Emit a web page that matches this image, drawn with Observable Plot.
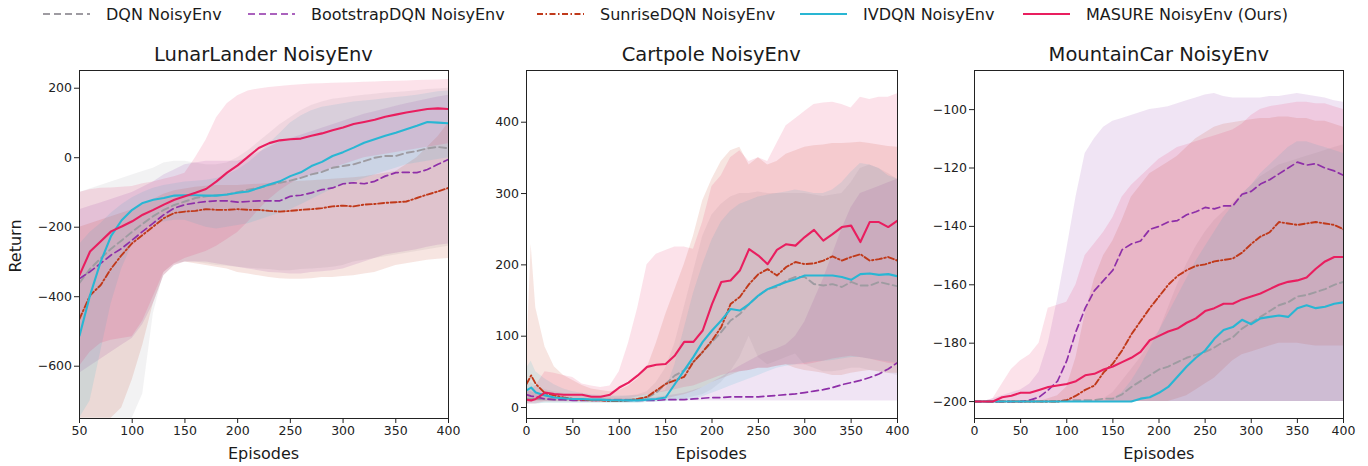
<!DOCTYPE html>
<html><head><meta charset="utf-8">
<script src="https://cdn.jsdelivr.net/npm/d3@7"></script>
<script src="https://cdn.jsdelivr.net/npm/@observablehq/plot@0.6"></script>
<style>
body{margin:0;background:#fff;font-family:"DejaVu Sans",sans-serif;}
#root{position:relative;width:1368px;height:466px;overflow:hidden;background:#fff;}
.abs{position:absolute;white-space:nowrap;color:#1a1a1a;}
.title{font-size:19.5px;transform:translate(-50%,-50%);}
.xlab{font-size:16px;transform:translate(-50%,-50%);}
.ylab{font-size:16px;transform:translate(-50%,-50%) rotate(-90deg);}
.item{position:absolute;top:1px;height:26px;display:flex;align-items:center;font-size:16px;color:#1a1a1a;white-space:nowrap;}
.item svg{margin-right:16px;}
svg.plot{position:absolute;overflow:visible;}
</style></head>
<body><div id="root"></div>
<script>
// ---------- series ----------
const seriesNames = ["DQN NoisyEnv","BootstrapDQN NoisyEnv","SunriseDQN NoisyEnv","IVDQN NoisyEnv","MASURE NoisyEnv (Ours)"];
const seriesColors = ["#9e9ba1","#8e2fa8","#c0391a","#29b6d3","#e91e5f"];
const seriesDash = ["7,4","7,4","6,2.5,1.5,2.5",null,null];
const seriesWidth = [1.9,1.7,1.9,2.1,2.1];

// ---------- LunarLander ----------
const lunarX = [50,60,70,80,90,100,110,120,130,140,150,160,170,180,190,200,210,220,230,240,250,260,270,280,290,300,310,320,330,340,350,360,370,380,390,400];
const lunarDqnMean = [-360,-320,-290,-262,-238,-213,-190,-168,-150,-136,-126,-116,-111,-108,-106,-99,-92,-87,-79,-72,-66,-58,-48,-41,-29,-24,-19,-10,0,5,5,14,19,27,31,27];
const lunarDqnLo = [-750,-750,-750,-750,-750,-750,-680,-450,-330,-305,-300,-300,-305,-310,-312,-315,-318,-320,-322,-325,-325,-322,-320,-318,-315,-310,-300,-295,-290,-285,-280,-275,-270,-265,-260,-255];
const lunarDqnHi = [-100,-90,-80,-70,-60,-50,-40,-30,-15,-10,-10,-15,-20,-20,-15,0,20,45,70,95,115,135,150,160,168,172,176,180,183,186,188,190,193,196,198,200];
const lunarBootMean = [-348,-328,-304,-280,-261,-237,-212,-188,-164,-145,-135,-130,-126,-124,-124,-128,-126,-124,-124,-124,-111,-108,-101,-92,-87,-75,-72,-75,-68,-53,-43,-42,-43,-34,-19,-5];
const lunarBootLo = [-620,-600,-580,-560,-540,-520,-480,-420,-340,-310,-300,-300,-300,-305,-310,-315,-320,-325,-330,-332,-335,-335,-330,-328,-325,-320,-310,-300,-290,-280,-275,-270,-265,-258,-252,-248];
const lunarBootHi = [-150,-140,-130,-120,-110,-100,-85,-70,-50,-35,-20,-15,-10,-10,-10,-10,0,15,30,45,55,65,75,85,95,105,115,125,132,140,148,155,162,168,175,180];
const lunarSunMean = [-464,-396,-367,-319,-280,-246,-222,-198,-174,-159,-155,-153,-148,-150,-150,-148,-150,-150,-153,-155,-153,-150,-148,-145,-140,-138,-140,-135,-133,-130,-128,-126,-116,-106,-97,-87];
const lunarSunLo = [-750,-750,-750,-750,-720,-640,-540,-420,-340,-310,-300,-305,-310,-315,-320,-330,-335,-340,-345,-348,-350,-350,-348,-345,-345,-342,-340,-335,-330,-320,-310,-305,-300,-295,-292,-290];
const lunarSunHi = [-200,-190,-180,-170,-160,-150,-135,-120,-105,-95,-90,-85,-82,-80,-80,-80,-78,-76,-74,-72,-70,-68,-66,-64,-62,-60,-58,-55,-50,-45,-40,-20,0,30,60,100];
const lunarIvMean = [-512,-396,-300,-225,-180,-150,-130,-121,-116,-109,-108,-108,-109,-109,-106,-101,-97,-87,-77,-68,-53,-42,-24,-12,5,16,29,43,53,63,72,82,92,103,101,99];
const lunarIvLo = [-750,-700,-560,-420,-320,-250,-210,-190,-185,-180,-180,-190,-200,-205,-200,-195,-190,-180,-170,-160,-150,-135,-120,-105,-90,-80,-70,-60,-50,-40,-30,-20,-15,-10,-5,0];
const lunarIvHi = [-250,-215,-190,-160,-135,-115,-100,-88,-80,-75,-70,-68,-65,-60,-50,-35,-15,10,40,70,100,120,135,145,150,155,160,163,166,170,173,176,180,185,190,192];
const lunarMaMean = [-338,-270,-241,-212,-198,-183,-164,-150,-135,-121,-111,-101,-90,-68,-43,-22,3,28,42,50,53,55,63,70,79,87,97,103,109,118,124,130,135,140,142,140];
const lunarMaLo = [-600,-560,-535,-525,-520,-515,-470,-400,-330,-305,-290,-280,-270,-255,-235,-215,-185,-150,-120,-95,-75,-60,-50,-40,-30,-20,-10,0,5,10,15,20,25,30,35,40];
const lunarMaHi = [-100,-92,-88,-87,-85,-83,-75,-70,-62,-55,-45,0,50,115,155,178,192,198,202,205,208,210,212,213,214,215,216,217,218,219,220,221,222,223,224,225];
const lunarXTicks = [50,100,150,200,250,300,350,400];
const lunarYTicks = [-600,-400,-200,0,200];

// ---------- Cartpole ----------
const cartX = [0,5,10,20,30,40,50,60,70,80,90,100,110,120,130,140,150,160,170,180,190,200,210,220,230,240,250,260,270,280,290,300,310,320,330,340,350,360,370,380,390,400];
const cartDqnMean = [12,12,12,12,11,11,11,11,11,11,11,11,11,12,14,21,33,45,52,64,78,92,106,122,131,145,157,166,169,178,183,183,173,171,173,169,176,171,171,176,173,170];
const cartDqnLo = [5,5,5,6,6,6,6,6,6,6,6,6,6,6,7,8,9,10,12,15,18,25,35,50,70,100,70,60,65,70,75,60,55,50,50,52,55,55,52,50,48,45];
const cartDqnHi = [30,35,30,25,22,20,18,17,16,15,15,15,16,18,22,35,55,90,140,190,240,270,285,295,300,300,302,300,300,300,300,300,298,296,298,300,315,335,340,335,328,320];
const cartBootMean = [18,16,15,12,11,11,10,10,10,10,10,10,10,10,10,10,11,11,11,12,13,14,14,15,15,15,15,16,17,18,19,21,23,25,28,32,35,38,42,47,54,63];
const cartBootLo = [10,10,10,9,9,9,9,9,9,9,9,9,9,9,9,9,9,9,9,9,9,9,9,9,9,9,9,9,9,9,9,9,9,9,9,9,9,9,9,9,9,9];
const cartBootHi = [25,22,20,16,14,13,12,12,12,12,12,12,12,12,13,14,16,18,20,24,28,35,42,50,58,65,72,78,82,88,100,120,150,180,215,250,280,300,305,310,315,320];
const cartSunMean = [33,45,33,20,17,14,12,11,10,10,9,9,10,12,15,24,33,38,43,64,78,94,113,145,155,173,187,194,185,197,204,201,202,206,212,206,211,215,206,208,211,206];
const cartSunLo = [5,8,8,8,8,8,8,8,8,8,8,8,8,8,9,10,12,15,18,22,28,35,40,45,50,52,55,55,58,60,55,52,50,48,45,45,48,50,52,50,48,48];
const cartSunHi = [60,229,140,85,57,45,38,31,26,24,22,24,30,40,55,90,130,165,200,240,290,320,345,360,365,340,350,340,345,355,360,365,367,368,370,370,371,372,370,368,366,365];
const cartIvMean = [24,28,21,17,14,13,12,12,11,11,10,10,10,10,11,12,14,33,52,71,92,108,122,138,136,145,157,166,171,176,180,185,185,185,185,183,179,187,188,186,187,184];
const cartIvLo = [5,5,5,6,6,6,6,6,6,6,6,6,6,6,7,7,8,9,10,12,15,20,25,30,35,40,45,50,55,58,60,62,64,65,66,68,70,70,68,66,64,62];
const cartIvHi = [55,65,50,40,32,26,22,20,18,17,16,16,16,17,18,20,24,60,110,160,200,235,260,275,285,290,295,298,300,302,305,303,300,300,305,315,330,342,340,335,325,320];
const cartMaMean = [11,10,12,21,19,18,18,18,15,15,18,28,35,45,57,60,61,73,92,92,108,145,176,178,192,222,213,201,221,229,227,239,249,234,243,253,255,232,260,260,253,262];
const cartMaLo = [5,5,5,8,8,8,8,8,8,8,8,10,12,15,18,20,22,25,28,30,35,40,45,48,50,52,55,55,58,60,60,60,62,65,68,70,72,70,68,65,62,60];
const cartMaHi = [20,25,30,50,48,45,42,33,30,28,30,50,90,140,200,215,220,225,225,222,260,310,325,350,360,345,350,345,370,395,405,415,425,427,428,425,420,435,432,435,435,440];
const cartXTicks = [0,50,100,150,200,250,300,350,400];
const cartYTicks = [0,100,200,300,400];

// ---------- MountainCar ----------
const mcX = [0,10,20,30,40,50,60,70,80,90,100,110,120,130,140,150,160,170,180,190,200,210,220,230,240,250,260,270,280,290,300,310,320,330,340,350,360,370,380,390,400];
const mcDqnMean = [-200,-200,-200,-200,-200,-200,-200,-200,-200,-200,-199.5,-199.5,-199.5,-199.5,-199,-199,-197.5,-195,-193,-191,-189,-188,-186.5,-185,-184,-183,-181.5,-179.5,-178,-175,-173,-171,-169,-167,-166,-164,-163.5,-162.5,-161.5,-160,-159];
const mcDqnLo = [-200,-200,-200,-200,-200,-200,-200,-200,-200,-200,-200,-200,-200,-200,-200,-200,-200,-200,-200,-200,-200,-200,-200,-200,-200,-200,-200,-200,-200,-200,-200,-200,-200,-200,-200,-200,-200,-200,-200,-200,-200];
const mcDqnHi = [-200,-200,-200,-200,-200,-200,-200,-200,-200,-200,-200,-200,-200,-200,-199,-197,-193,-189,-185,-180,-176,-168,-160,-153,-147,-142,-138,-135,-132,-129,-126,-123,-121,-119,-118,-117,-116,-115,-114,-113,-112];
const mcBootMean = [-200,-200,-200,-200,-200,-200,-199.5,-198.5,-196,-193,-186,-176,-168,-162,-158.5,-155,-148,-146,-145,-141,-140,-138.5,-138,-136,-135,-133.5,-134,-133,-133,-129,-128,-125.5,-124,-122,-120,-118,-119,-118.5,-120,-121,-122.5];
const mcBootLo = [-200,-200,-200,-200,-200,-200,-200,-200,-200,-200,-200,-200,-200,-200,-200,-200,-200,-200,-200,-200,-200,-200,-200,-200,-200,-200,-200,-200,-200,-200,-200,-200,-200,-200,-200,-200,-200,-200,-200,-200,-200];
const mcBootHi = [-200,-200,-199,-198,-197,-196,-194,-190,-180,-165,-148,-130,-115,-110,-106,-104,-103,-102,-101,-100,-99.5,-99,-98,-97,-96,-95,-94.5,-95.5,-96,-96,-96,-96,-95.5,-95.5,-95,-94.5,-95,-95.5,-96,-97,-97.5];
const mcSunMean = [-200,-200,-200,-200,-200,-200,-200,-200,-200,-200,-199.5,-198,-196,-194.5,-190,-187,-182.5,-177,-172.5,-168,-164,-160,-157,-155,-153.5,-153,-152,-151.5,-151,-149,-146,-143.5,-142,-138.5,-139,-139.5,-139,-138.5,-139,-139.5,-141];
const mcSunLo = [-200,-200,-200,-200,-200,-200,-200,-200,-200,-200,-200,-200,-200,-200,-200,-200,-200,-200,-200,-200,-200,-200,-199,-198,-196,-194,-192,-189,-186,-184,-183,-182,-181,-180,-180,-180,-180.5,-181,-181,-181,-181];
const mcSunHi = [-200,-200,-200,-200,-200,-200,-200,-200,-199,-198,-195,-185,-170,-158,-150,-145,-138,-130,-126,-122,-120,-118,-116,-113,-110,-108,-106,-105,-104.5,-104,-103.5,-103,-103,-102.5,-102.5,-103,-103,-104,-104,-105,-106];
const mcIvMean = [-200,-200,-200,-200,-200,-200,-200,-200,-200,-200,-200,-200,-200,-200,-200,-200,-200,-200,-199,-198.5,-197,-195,-191.5,-188,-185,-182.5,-178.5,-175.5,-174.5,-172,-173.5,-171.5,-171,-170.5,-171,-168,-167,-168,-167.5,-166.5,-166];
const mcIvLo = [-200,-200,-200,-200,-200,-200,-200,-200,-200,-200,-200,-200,-200,-200,-200,-200,-200,-200,-200,-200,-200,-200,-200,-200,-200,-200,-200,-200,-200,-200,-200,-200,-200,-200,-200,-200,-200,-200,-200,-200,-200];
const mcIvHi = [-200,-200,-200,-200,-200,-200,-200,-200,-200,-200,-200,-200,-200,-200,-200,-199,-197,-193,-188,-182,-176,-170,-164,-158,-152,-147,-142,-137,-133,-129,-126,-122,-119,-116,-113,-111,-111,-112,-113,-114,-115];
const mcMaMean = [-200,-200,-200,-198.5,-198,-197,-197,-196,-195,-194.5,-194,-193,-191,-190.5,-189,-188,-186.5,-185,-183,-179,-177.5,-176,-175,-173,-171.5,-169,-168,-166.5,-166.5,-165,-164,-163,-161.5,-160,-159,-158.5,-157.5,-154.5,-152,-150.5,-150.5];
const mcMaLo = [-200,-200,-200,-200,-200,-200,-200,-200,-200,-200,-200,-200,-200,-200,-200,-200,-200,-200,-200,-200,-200,-200,-200,-200,-200,-200,-200,-200,-200,-200,-200,-200,-200,-200,-200,-200,-200,-200,-200,-200,-200];
const mcMaHi = [-200,-200,-199,-194,-189,-186,-184,-180,-168,-167,-166,-160,-150,-146,-142,-137,-130,-126,-123,-120,-117,-115,-113,-112,-111,-110,-109,-108,-107,-105,-102,-100,-99,-98.5,-98,-97.5,-97.5,-98,-98,-99,-100];
const mcXTicks = [0,50,100,150,200,250,300,350,400];
const mcYTicks = [-200,-180,-160,-140,-120,-100];

// ---------- panels ----------
const panels = [
  {title:"LunarLander NoisyEnv", x:lunarX, left:79, w:369, xDomain:[50,400], yDomain:[-750.5,251], xTicks:lunarXTicks, yTicks:lunarYTicks, ylabel:"Return",
   s:[[lunarDqnMean,lunarDqnLo,lunarDqnHi],[lunarBootMean,lunarBootLo,lunarBootHi],[lunarSunMean,lunarSunLo,lunarSunHi],[lunarIvMean,lunarIvLo,lunarIvHi],[lunarMaMean,lunarMaLo,lunarMaHi]]},
  {title:"Cartpole NoisyEnv", x:cartX, left:525.7, w:371, xDomain:[0,400], yDomain:[-15.4,472.5], xTicks:cartXTicks, yTicks:cartYTicks,
   s:[[cartDqnMean,cartDqnLo,cartDqnHi],[cartBootMean,cartBootLo,cartBootHi],[cartSunMean,cartSunLo,cartSunHi],[cartIvMean,cartIvLo,cartIvHi],[cartMaMean,cartMaLo,cartMaHi]]},
  {title:"MountainCar NoisyEnv", x:mcX, left:974.3, w:369, xDomain:[0,400], yDomain:[-205.8,-86.6], xTicks:mcXTicks, yTicks:mcYTicks,
   s:[[mcDqnMean,mcDqnLo,mcDqnHi],[mcBootMean,mcBootLo,mcBootHi],[mcSunMean,mcSunLo,mcSunHi],[mcIvMean,mcIvLo,mcIvHi],[mcMaMean,mcMaLo,mcMaHi]]}
];

const root = document.getElementById("root");
const ML = 50, MR = 10, MT = 10, MB = 30, FRAME_TOP = 70, FRAME_H = 348;
const fmt = d3.format("");

panels.forEach(p => {
  const tables = p.s.map(([m, lo, hi], i) => p.x.map((x, j) => ({x, mean: m[j], lo: lo[j], hi: hi[j], s: i})));
  const marks = [];
  tables.forEach((t, i) => marks.push(Plot.areaY(t, {x:"x", y1:"lo", y2:"hi", fill:seriesColors[i], fillOpacity:0.13, clip:true})));
  tables.forEach((t, i) => marks.push(Plot.lineY(t, {x:"x", y:"mean", stroke:seriesColors[i], strokeWidth:seriesWidth[i], strokeDasharray:seriesDash[i] || undefined, clip:true})));
  marks.push(Plot.frame({stroke:"#222", strokeWidth:1}));
  marks.push(Plot.axisX({ticks:p.xTicks, tickSize:5, tickPadding:3, tickFormat:fmt, fontSize:12.5, label:null, color:"#222"}));
  marks.push(Plot.axisY({ticks:p.yTicks, tickSize:5, tickPadding:2.5, tickFormat:fmt, fontSize:12.5, label:null, color:"#222"}));
  const svg = Plot.plot({
    width: p.w + ML + MR, height: FRAME_H + MT + MB,
    marginLeft: ML, marginRight: MR, marginTop: MT, marginBottom: MB,
    style: {fontFamily: "DejaVu Sans", background: "transparent", overflow: "visible"},
    x: {domain: p.xDomain}, y: {domain: p.yDomain},
    marks
  });
  svg.classList.add("plot");
  svg.style.left = (p.left - ML) + "px";
  svg.style.top = (FRAME_TOP - MT) + "px";
  root.appendChild(svg);

  const t = document.createElement("div");
  t.className = "abs title"; t.textContent = p.title;
  t.style.left = (p.left + p.w / 2) + "px"; t.style.top = "54px";
  root.appendChild(t);

  const xl = document.createElement("div");
  xl.className = "abs xlab"; xl.textContent = "Episodes";
  xl.style.left = (p.left + p.w / 2) + "px"; xl.style.top = "453px";
  root.appendChild(xl);

  if (p.ylabel) {
    const yl = document.createElement("div");
    yl.className = "abs ylab"; yl.textContent = p.ylabel;
    yl.style.left = "15px"; yl.style.top = "246px";
    root.appendChild(yl);
  }
});

// ---------- legend ----------
const legendLeft = [43, 248, 537, 800, 1023];
seriesNames.forEach((name, i) => {
  const item = document.createElement("div");
  item.className = "item";
  item.style.left = legendLeft[i] + "px";
  const ns = "http://www.w3.org/2000/svg";
  const sw = document.createElementNS(ns, "svg");
  sw.setAttribute("width", 47); sw.setAttribute("height", 10);
  const ln = document.createElementNS(ns, "line");
  ln.setAttribute("x1", 0); ln.setAttribute("x2", 47); ln.setAttribute("y1", 5); ln.setAttribute("y2", 5);
  ln.setAttribute("stroke", seriesColors[i]); ln.setAttribute("stroke-width", seriesWidth[i]);
  if (seriesDash[i]) ln.setAttribute("stroke-dasharray", seriesDash[i]);
  sw.appendChild(ln);
  const tx = document.createElement("span"); tx.textContent = name;
  item.appendChild(sw); item.appendChild(tx);
  root.appendChild(item);
});
</script>
</body></html>
